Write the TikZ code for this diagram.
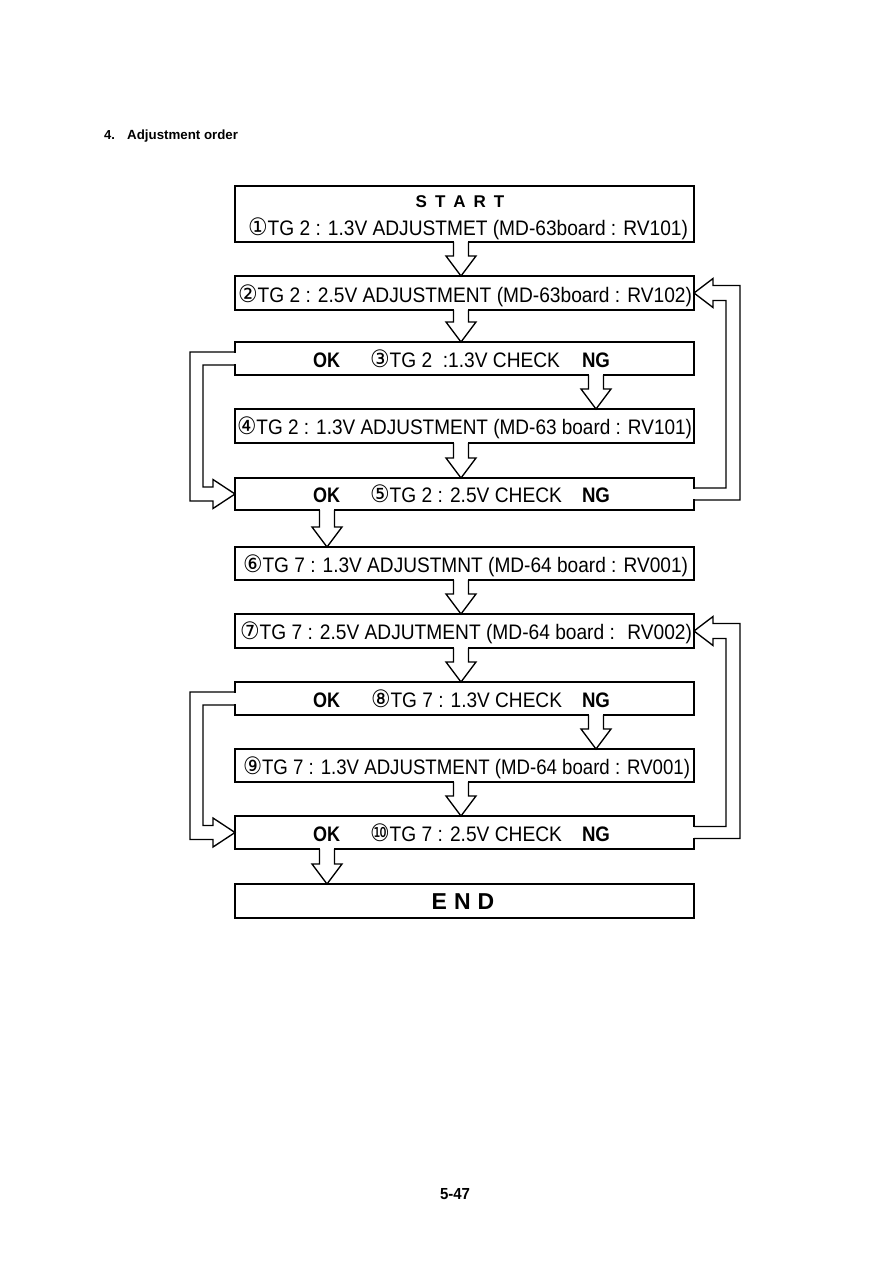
\documentclass[tikz,border=0pt]{standalone}
\usepackage{graphicx}
\usepackage{fontspec}
\setmainfont{Liberation Sans}
\newfontfamily\circfont{DejaVu Sans}
\usetikzlibrary{calc}
\newcommand\cn[1]{{\circfont\fontsize{24}{26}\selectfont #1}}
\newcommand\fitw[2]{\resizebox{#1pt}{\height}{#2}}
\tikzset{
  box/.style={draw, line width=1.35pt, minimum width=459pt, inner sep=0pt, outer sep=0pt},
  conn/.style={line width=1.35pt, line join=miter},
  txt/.style={inner sep=0pt, outer sep=0pt, anchor=base west, font=\fontsize{21}{24}\selectfont},
  btxt/.style={inner sep=0pt, outer sep=0pt, anchor=base, font=\fontsize{21}{24}\selectfont\bfseries},
}
% hollow down arrow from box #1 to box #2 in column #3
\newcommand\hdarrow[3]{%
  \coordinate (hs) at (#1.south -| #3);
  \coordinate (he) at (#2.north -| #3);
  \fill[white] ($(hs)+(-6.6,-1.5)$) rectangle ($(hs)+(6.6,1.5)$);
  \draw[conn] ($(hs)+(-7.5,0)$) -- ($(he)+(-7.5,-20)$) -- ($(he)+(-15,-20)$) -- (he)
     -- ($(he)+(15,-20)$) -- ($(he)+(7.5,-20)$) -- ($(hs)+(7.5,0)$);
}
% left OK loop
\newcommand\lloop[2]{%
  \coordinate (la) at (#1.west);
  \coordinate (lb) at (#2.west);
  \fill[white] ($(la)+(-1.5,-5.6)$) rectangle ($(la)+(1.5,5.6)$);
  \draw[conn] ($(la)+(0,-6.5)$) -- ($(la)+(-45,-6.5)$) -- ($(lb)+(-45,7)$) -- ($(lb)+(-22,7)$)
     -- ($(lb)+(-22,14.5)$) -- (lb) -- ($(lb)+(-22,-14.5)$) -- ($(lb)+(-22,-7)$)
     -- ($(lb)+(-32,-7)$) -- ($(la)+(-32,6.5)$) -- ($(la)+(0,6.5)$);
}
% right NG loop
\newcommand\rloop[2]{%
  \coordinate (ra) at (#1.east);
  \coordinate (rb) at (#2.east);
  \fill[white] ($(ra)+(-1.5,-5.1)$) rectangle ($(ra)+(1.5,5.1)$);
  \draw[conn] ($(ra)+(0,6)$) -- ($(ra)+(46,6)$) -- ($(rb)+(46,-7.5)$) -- ($(rb)+(19,-7.5)$)
     -- ($(rb)+(19,-14.5)$) -- (rb) -- ($(rb)+(19,14.5)$) -- ($(rb)+(19,7.5)$)
     -- ($(rb)+(32,7.5)$) -- ($(ra)+(32,-6)$) -- ($(ra)+(0,-6)$);
}
\begin{document}
\begin{tikzpicture}[x=1pt,y=-1pt]
\fill[white] (0,0) rectangle (893,1263);
\useasboundingbox (0,0) rectangle (893,1263);

% header and footer
\node[inner sep=0pt, anchor=base west, font=\fontsize{13}{15}\selectfont\bfseries] (h1) at (104,139) {4.};
\node[inner sep=0pt, anchor=base west, font=\fontsize{13.3}{15}\selectfont\bfseries] (h2) at (127,139) {Adjustment order};
\node[inner sep=0pt, anchor=base, font=\fontsize{16}{18}\selectfont\bfseries] (pg) at (455,1199) {\fitw{30}{5-47}};

% columns
\coordinate (cM) at (461,0);
\coordinate (cOK) at (327,0);
\coordinate (cNG) at (596,0);

% boxes
\node[box, minimum height=56pt] (b1) at (464.5,214) {};
\node[box, minimum height=34pt] (b2) at (464.5,293) {};
\node[box, minimum height=33pt] (b3) at (464.5,358.5) {};
\node[box, minimum height=34pt] (b4) at (464.5,426) {};
\node[box, minimum height=32pt] (b5) at (464.5,494) {};
\node[box, minimum height=33pt] (b6) at (464.5,563.5) {};
\node[box, minimum height=34pt] (b7) at (464.5,631) {};
\node[box, minimum height=33pt] (b8) at (464.5,698.5) {};
\node[box, minimum height=33pt] (b9) at (464.5,765.5) {};
\node[box, minimum height=33pt] (b10) at (464.5,832.5) {};
\node[box, minimum height=34pt] (bend) at (464.5,901) {};

% texts
\node[inner sep=0pt, anchor=base, font=\fontsize{17}{18}\selectfont\bfseries] (tstart) at (460,207.5) {S\hspace{8pt}T\hspace{8pt}A\hspace{8pt}R\hspace{8pt}T};
\node[txt] (t1) at (248,235) {\fitw{440}{\cn{①}TG 2 : 1.3V ADJUSTMET (MD-63board : RV101)}};
\node[txt] (t2) at (238,302) {\fitw{454}{\cn{②}TG 2 : 2.5V ADJUSTMENT (MD-63board : RV102)}};
\node[btxt] (ok3) at (326.5,367) {\fitw{27}{OK}};
\node[txt] (t3) at (370,367) {\fitw{190}{\cn{③}TG 2 \ :1.3V CHECK}};
\node[btxt] (ng3) at (596,367) {\fitw{28}{NG}};
\node[txt] (t4) at (237,434.5) {\fitw{455}{\cn{④}TG 2 : 1.3V ADJUSTMENT (MD-63 board : RV101)}};
\node[btxt] (ok5) at (326.5,502.5) {\fitw{27}{OK}};
\node[txt] (t5) at (370,502.5) {\fitw{192}{\cn{⑤}TG 2 : 2.5V CHECK}};
\node[btxt] (ng5) at (596,502.5) {\fitw{28}{NG}};
\node[txt] (t6) at (243,572) {\fitw{445}{\cn{⑥}TG 7 : 1.3V ADJUSTMNT (MD-64 board : RV001)}};
\node[txt] (t7) at (240,639.5) {\fitw{452}{\cn{⑦}TG 7 : 2.5V ADJUTMENT (MD-64 board : \ RV002)}};
\node[btxt] (ok8) at (326.5,707) {\fitw{27}{OK}};
\node[txt] (t8) at (371,707) {\fitw{191}{\cn{⑧}TG 7 : 1.3V CHECK}};
\node[btxt] (ng8) at (596,707) {\fitw{28}{NG}};
\node[txt] (t9) at (243,774) {\fitw{447}{\cn{⑨}TG 7 : 1.3V ADJUSTMENT (MD-64 board : RV001)}};
\node[btxt] (ok10) at (326.5,841) {\fitw{27}{OK}};
\node[txt] (t10) at (370,841) {\fitw{192}{\cn{⑩}TG 7 : 2.5V CHECK}};
\node[btxt] (ng10) at (596,841) {\fitw{28}{NG}};
\node[inner sep=0pt, anchor=base, font=\fontsize{23}{25}\selectfont\bfseries] (tend) at (463,909.5) {E\hspace{7pt}N\hspace{7pt}D};

% connectors
\hdarrow{b1}{b2}{cM}
\hdarrow{b2}{b3}{cM}
\hdarrow{b3}{b4}{cNG}
\hdarrow{b4}{b5}{cM}
\hdarrow{b5}{b6}{cOK}
\hdarrow{b6}{b7}{cM}
\hdarrow{b7}{b8}{cM}
\hdarrow{b8}{b9}{cNG}
\hdarrow{b9}{b10}{cM}
\hdarrow{b10}{bend}{cOK}
\lloop{b3}{b5}
\rloop{b5}{b2}
\lloop{b8}{b10}
\rloop{b10}{b7}
\end{tikzpicture}
\end{document}
